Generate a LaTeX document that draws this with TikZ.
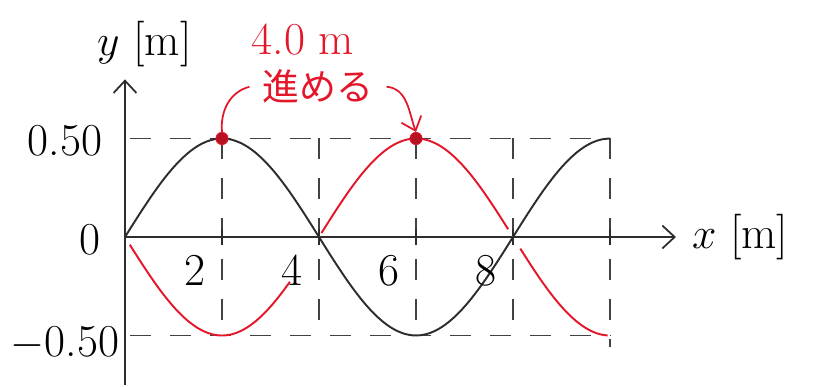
\documentclass[tikz,border=0pt]{standalone}
\usepackage{fontspec}
\newfontfamily\jpfont{Noto Sans CJK JP}
\usepackage{tikz}
\usetikzlibrary{arrows.meta, positioning}
\usepackage{xcolor}
\definecolor{colWave}{RGB}{45, 45, 45}
\definecolor{colShift}{RGB}{228, 22, 42}

\begin{document}
\begin{tikzpicture}[
  x=0.97cm, y=3.94cm,
  axis/.style={line width=1pt, colWave,
               -{Straight Barb[length=7pt, width=13pt]}},
  guide/.style={line width=0.9pt, colWave!90,
                dash pattern=on 0.42cm off 0.38cm},
  wave/.style={line width=1.1pt, #1, smooth, samples=60},
  lab/.style={font=\fontsize{26}{28}\selectfont, inner sep=1pt},
  crest/.style={circle, fill=colShift!80!black, draw=colShift,
                inner sep=0pt, minimum size=7pt}
]
\useasboundingbox (-2.577,-0.761) rectangle (14.412,1.203);

% ---------- Axes ----------
\coordinate (O)    at (0,0);
\coordinate (xend) at (11.36,0);
\coordinate (ybot) at (0,-0.75);
\coordinate (ytop) at (0,0.80);
\draw[axis] (ybot) -- (ytop);
\draw[axis] (O) -- (xend);

% ---------- Dashed guides ----------
\draw[guide] (0.1,0.5) -- (10,0.5);
\draw[guide] (0.1,-0.5) -- (10,-0.5);
\foreach \k in {2,4,6,8}
  \draw[guide] (\k,0.5) -- (\k,-0.5);
\draw[guide] (10,0.5) -- (10,-0.56);
\foreach \k in {2,4,6,8,10}
  \draw[line width=1pt, colWave] (\k,-0.04) -- (\k,0.04);

% ---------- Waves ----------
\draw[wave=colWave] plot[domain=0:10] (\x,{0.5*sin(45*\x)});
\foreach \a/\b in {0.1/3.4, 4.05/7.9, 8.15/9.95}
  \draw[wave=colShift] plot[domain=\a:\b] (\x,{-0.5*sin(45*\x)});

% ---------- Scale labels ----------
\foreach \k in {2,4,6,8}
  \node[lab] (xl\k) at (\k-0.55,-0.17) {\k};
\node[lab] (yhalf)  at (-1.24,0.49)  {0.50};
\node[lab] (yzero)  at (-0.72,-0.015) {0};
\node[lab] (ymhalf) at (-1.24,-0.54) {$-$0.50};
\node[lab] (ylab)   at (0.4,0.98)    {$y$ [m]};
\node[lab, right=0.28cm of xend] (xlab) {$x$ [m]};

% ---------- Crests and shift ----------
\node[crest] (crest1) at (2,0.5) {};
\node[crest] (crest2) at (6,0.5) {};
\node[lab, colShift] (dist) at (3.67,1.0) {4.0 m};
\node[colShift, font=\jpfont\fontsize{21}{23}\selectfont,
      below=0.12cm of dist, xshift=0.3cm] (shift) {進める};

\draw[colShift, line width=1pt]
  (crest1.north) to[out=95, in=195] ([xshift=-4pt]shift.west);
\draw[colShift, line width=1pt, -{Straight Barb[length=7pt, width=12pt]}]
  ([xshift=4pt]shift.east) to[out=-5, in=110] (crest2.north);

\end{tikzpicture}
\end{document}
